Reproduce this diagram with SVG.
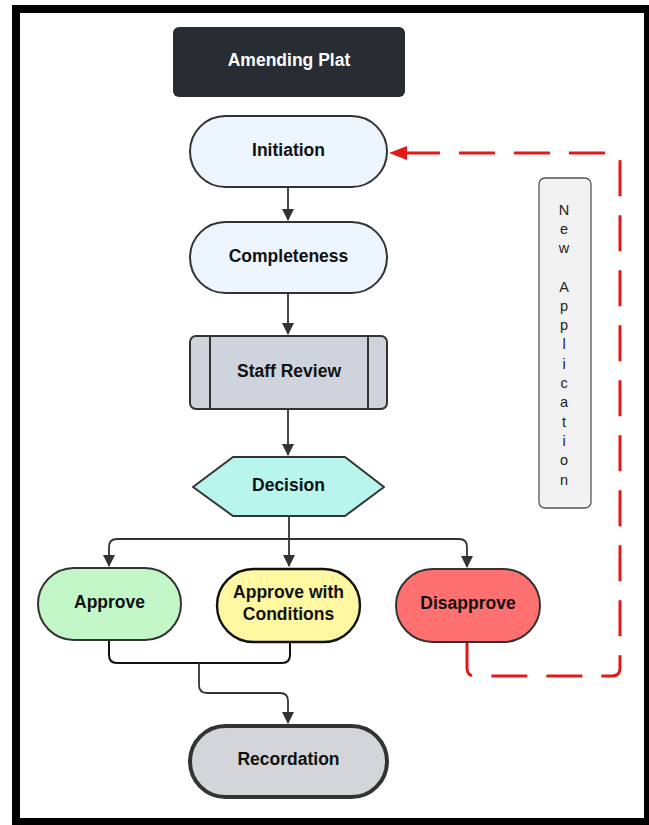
<svg xmlns="http://www.w3.org/2000/svg" width="649" height="825" viewBox="0 0 649 825">
<style>
  .lbl{font-family:"Liberation Sans",Arial,sans-serif;font-weight:bold;font-size:17.5px;fill:#111;text-anchor:middle}
  .node{stroke:#333;stroke-width:2}
  .conn{fill:none;stroke:#333;stroke-width:1.8}
  .red{fill:none;stroke:#e0191b;stroke-width:3;stroke-dasharray:36 19}
  .vt{font-family:"Liberation Sans",Arial,sans-serif;font-size:14.5px;fill:#222;text-anchor:middle}
</style>
<defs>
  <marker id="ah" markerWidth="12" markerHeight="14" refX="11" refY="6" orient="auto" markerUnits="userSpaceOnUse">
    <path d="M0,0 L12,6 L0,12 Z" fill="#333"/>
  </marker>
  <marker id="ahr" markerWidth="20" markerHeight="16" refX="18" refY="7" orient="auto" markerUnits="userSpaceOnUse">
    <path d="M0,0 L18,7 L0,14 Z" fill="#e0191b"/>
  </marker>
</defs>
<rect x="12" y="5" width="637" height="820" fill="#000"/>
<rect x="20" y="13" width="624" height="805" fill="#fff"/>

<g id="connectors">
  <path class="conn" d="M288,187 V220" marker-end="url(#ah)"/>
  <path class="conn" d="M288,293 V334" marker-end="url(#ah)"/>
  <path class="conn" d="M288,409 V455" marker-end="url(#ah)"/>
  <path class="conn" d="M289,516 V566" marker-end="url(#ah)"/>
  <path class="conn" d="M289,539 H117 Q109,539 109,547 V566" marker-end="url(#ah)"/>
  <path class="conn" d="M289,539 H459 Q467,539 467,547 V567" marker-end="url(#ah)"/>
  <path fill="none" stroke="#111" stroke-width="2" d="M109,640 V655 Q109,663 117,663 H282 Q290,663 290,655 V642"/>
  <path class="conn" d="M199,663 V685 Q199,693 207,693 H280 Q288,693 288,701 V723" marker-end="url(#ah)"/>
  <path class="red" d="M467,642 V668 Q467,676 475,676 H612 Q620,676 620,668 V161 Q620,153 612,153 H389" marker-end="url(#ahr)"/>
</g>

<g id="amending-plat">
  <rect x="173" y="27" width="232" height="70" rx="6" fill="#282c33"/>
  <text class="lbl" x="289" y="65.5" style="fill:#fff">Amending Plat</text>
</g>
<g id="initiation">
  <rect class="node" x="190" y="116" width="197" height="71" rx="35.5" fill="#edf5ff"/>
  <text class="lbl" x="288.5" y="155.5">Initiation</text>
</g>
<g id="completeness">
  <rect class="node" x="190" y="222" width="197" height="71" rx="35.5" fill="#edf5ff"/>
  <text class="lbl" x="288.5" y="261.5">Completeness</text>
</g>
<g id="staff-review">
  <rect class="node" x="190" y="336" width="197" height="73" rx="6" fill="#cfd4dc"/>
  <line x1="210" y1="336" x2="210" y2="409" stroke="#333" stroke-width="2"/>
  <line x1="368" y1="336" x2="368" y2="409" stroke="#333" stroke-width="2"/>
  <text class="lbl" x="289" y="377">Staff Review</text>
</g>
<g id="decision">
  <path class="node" d="M233,457 H345 L384,487 L345,516 H233 L193,487 Z" stroke-linejoin="round" fill="#b8f5ed"/>
  <text class="lbl" x="288.5" y="491">Decision</text>
</g>
<g id="new-application">
  <rect x="539" y="178" width="52" height="330" rx="6" fill="#f2f2f2" stroke="#555" stroke-width="1.3"/>
  <text class="vt" x="564" y="215">N</text>
  <text class="vt" x="564" y="234">e</text>
  <text class="vt" x="564" y="253">w</text>
  <text class="vt" x="564" y="292">A</text>
  <text class="vt" x="564" y="311">p</text>
  <text class="vt" x="564" y="330">p</text>
  <text class="vt" x="564" y="349">l</text>
  <text class="vt" x="564" y="369">i</text>
  <text class="vt" x="564" y="388">c</text>
  <text class="vt" x="564" y="407">a</text>
  <text class="vt" x="564" y="427">t</text>
  <text class="vt" x="564" y="446">i</text>
  <text class="vt" x="564" y="465">o</text>
  <text class="vt" x="564" y="485">n</text>
</g>
<g id="approve">
  <rect class="node" x="38" y="568" width="143" height="72" rx="36" fill="#c3f7c8"/>
  <text class="lbl" x="109.5" y="608">Approve</text>
</g>
<g id="approve-with-conditions">
  <rect x="217" y="569" width="143" height="73" rx="36.5" fill="#fff7a1" stroke="#111" stroke-width="2.4"/>
  <text class="lbl" x="288.5" y="598">Approve with</text>
  <text class="lbl" x="288.5" y="620">Conditions</text>
</g>
<g id="disapprove">
  <rect class="node" x="396" y="569" width="144" height="73" rx="36.5" fill="#ff7171"/>
  <text class="lbl" x="468" y="609">Disapprove</text>
</g>
<g id="recordation">
  <rect x="190" y="726" width="197" height="71" rx="35.5" fill="#d3d5d8" stroke="#333" stroke-width="4"/>
  <text class="lbl" x="288.5" y="765">Recordation</text>
</g>
</svg>
